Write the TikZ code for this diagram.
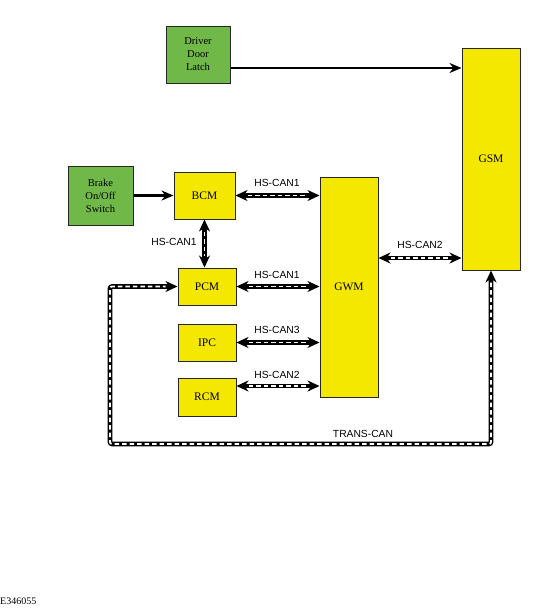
\documentclass[tikz,border=0pt]{standalone}
\usepackage{fontspec}
\setmainfont{Liberation Serif}
\newfontfamily\labelfont{Liberation Sans}
\usetikzlibrary{arrows.meta}
\definecolor{boxyellow}{RGB}{245,232,0}
\definecolor{boxgreen}{RGB}{112,184,72}
\tikzset{
  ybox/.style={draw=black!85, line width=1pt, fill=boxyellow, inner sep=0pt, font=\fontsize{11.5}{13}\selectfont, align=center},
  gbox/.style={draw=black!85, line width=1pt, fill=boxgreen, inner sep=0pt, font=\fontsize{10.5}{13}\selectfont, align=center},
  plainarr/.style={line width=2.6pt, -{Stealth[length=12pt,width=10pt]}},
  canline/.style={line width=4.6pt, rounded corners=2pt, {Stealth[length=12pt,width=11pt]}-{Stealth[length=12pt,width=11pt]},
    postaction={draw=white, line width=1.8pt, dash pattern=on 4.5pt off 3pt, shorten >=12pt, shorten <=12pt, -}},
  canlab/.style={font=\labelfont\fontsize{10.3}{12}\selectfont, inner sep=1pt},
}
\begin{document}
\begin{tikzpicture}[x=1pt,y=-1pt]
\useasboundingbox (0,0) rectangle (538,611);
% boxes
\node[gbox, minimum width=64pt, minimum height=57pt] (latch) at (198,54.5) {Driver\\Door\\Latch};
\node[ybox, minimum width=58pt, minimum height=222pt] (gsm) at (491,159) {GSM};
\node[gbox, minimum width=65pt, minimum height=59pt] (brake) at (100.5,195.5) {Brake\\On/Off\\Switch};
\node[ybox, minimum width=61pt, minimum height=47pt] (bcm) at (204.5,195.5) {BCM};
\node[ybox, minimum width=58pt, minimum height=220pt] (gwm) at (349,287) {GWM};
\node[ybox, minimum width=58pt, minimum height=37pt] (pcm) at (207,286.5) {PCM};
\node[ybox, minimum width=58pt, minimum height=37pt] (ipc) at (207,342.5) {IPC};
\node[ybox, minimum width=58pt, minimum height=38pt] (rcm) at (207,397) {RCM};
% helper coordinates
\coordinate (hlatch) at (0,68);
\coordinate (hgsm) at (0,258);
\coordinate (hrcm) at (0,386);
\coordinate (tl) at (110,0);
\coordinate (tb) at (0,444);
% plain arrows
\draw[plainarr] (latch.east |- hlatch) -- (gsm.west |- hlatch);
\draw[plainarr] (brake.east) -- (bcm.west);
% CAN links
\draw[canline] (bcm.east) -- (bcm.east -| gwm.west);
\draw[canline] (bcm.south) -- (bcm.south |- pcm.north);
\draw[canline] (pcm.east) -- (pcm.east -| gwm.west);
\draw[canline] (ipc.east) -- (ipc.east -| gwm.west);
\draw[canline] (rcm.east |- hrcm) -- (gwm.west |- hrcm);
\draw[canline] (gwm.east |- hgsm) -- (gsm.west |- hgsm);
\draw[canline] (gsm.south) -- (gsm.south |- tb) -- (tl |- tb) -- (tl |- pcm.west) -- (pcm.west);
% labels
\node[canlab] (l1) at (277,183) {HS-CAN1};
\node[canlab] (l2) at (174,242) {HS-CAN1};
\node[canlab] (l3) at (277,275) {HS-CAN1};
\node[canlab] (l4) at (277,330) {HS-CAN3};
\node[canlab] (l5) at (277,375) {HS-CAN2};
\node[canlab] (l6) at (420,245) {HS-CAN2};
\node[canlab] (l7) at (363,434) {TRANS-CAN};
\node[font=\fontsize{10}{12}\selectfont, anchor=west, inner sep=0pt] (fig) at (0,601) {E346055};
\end{tikzpicture}
\end{document}
